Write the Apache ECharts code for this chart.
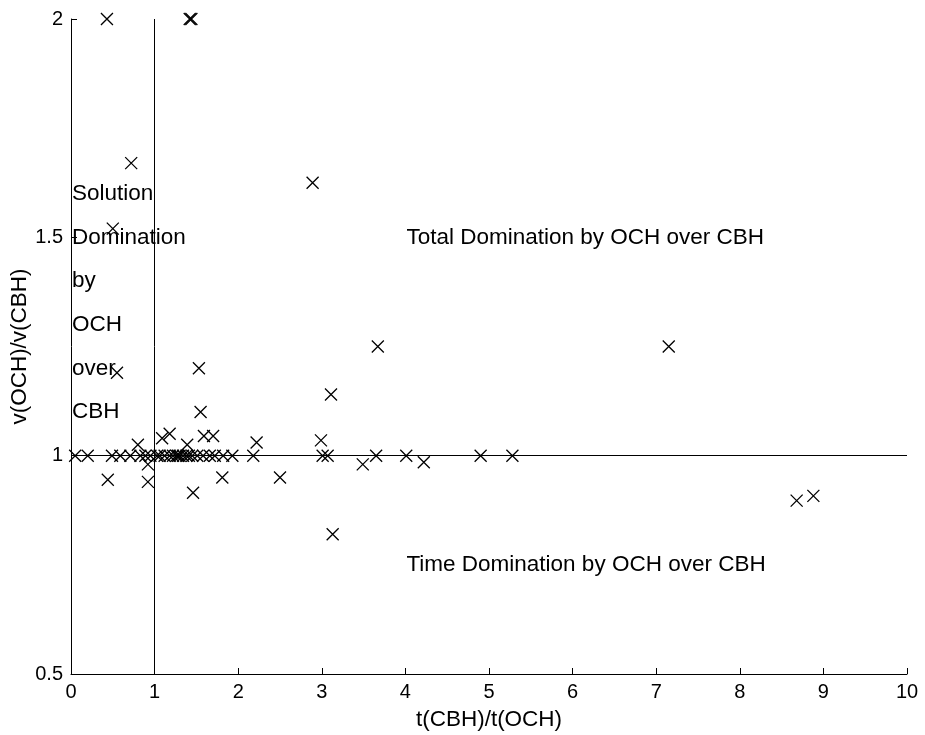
<!DOCTYPE html>
<html>
<head>
<meta charset="utf-8">
<script src="https://cdn.jsdelivr.net/npm/echarts@6/dist/echarts.min.js"></script>
<style>html,body{margin:0;padding:0;background:#fff;}#c{width:925px;height:735px;}</style>
</head>
<body>
<div id="c"></div>
<script>
// ---- data ----
var xVals = [0.43, 1.42, 1.44, 0.72, 2.89, 0.50, 3.67, 7.15, 0.55, 1.53, 1.55, 3.11,
  0.80, 1.09, 1.18, 1.39, 1.59, 1.70, 2.22, 2.99,
  0.44, 0.92, 0.92, 1.46, 1.81, 2.50, 3.49, 4.22, 3.13, 8.68, 8.88,
  0.05, 0.20, 0.49, 0.59, 0.71, 0.83, 0.89, 0.95, 1.03, 1.06, 1.12, 1.18, 1.22, 1.26,
  1.28, 1.30, 1.34, 1.38, 1.41, 1.45, 1.51, 1.58, 1.66, 1.72, 1.82, 1.93, 2.18, 3.01,
  3.07, 3.65, 4.01, 4.90, 5.28];
var yVals = [2.0, 2.0, 2.0, 1.67, 1.625, 1.52, 1.25, 1.25, 1.19, 1.20, 1.10, 1.14,
  1.025, 1.04, 1.05, 1.025, 1.045, 1.045, 1.03, 1.035,
  0.945, 0.98, 0.94, 0.915, 0.95, 0.95, 0.98, 0.985, 0.82, 0.897, 0.908,
  1, 1, 1, 1, 1, 1, 1, 1, 1, 1, 1, 1, 1, 1,
  1, 1, 1, 1, 1, 1, 1, 1, 1, 1, 1, 1, 1, 1,
  1, 1, 1, 1, 1];
var refX = [1];
var refY = [1];
var annoText = ['Solution', 'Domination', 'by', 'OCH', 'over', 'CBH',
  'Total Domination by OCH over CBH', 'Time Domination by OCH over CBH'];
var annoX = [0, 0, 0, 0, 0, 0, 4, 4];
var annoY = [1.6, 1.5, 1.4, 1.3, 1.2, 1.1, 1.5, 0.75];
var xTicks = [0, 10, 1];
var yTicks = [0.5, 2, 0.5];
var xLabel = 't(CBH)/t(OCH)';
var yLabel = 'v(OCH)/v(CBH)';
// ----------------

var FONT = '"Liberation Sans", Arial, Helvetica, sans-serif';
var pts = xVals.map(function (x, i) { return [x, yVals[i]]; });
var anno = annoText.map(function (t, i) { return { value: [annoX[i], annoY[i]], name: t }; });

var chart = echarts.init(document.getElementById('c'), null, { renderer: 'canvas' });
var axisCommon = {
  type: 'value',
  axisLine: { show: true, lineStyle: { color: '#000', width: 1 } },
  axisTick: { show: true, inside: true, length: 6, lineStyle: { color: '#000', width: 1 } },
  splitLine: { show: false },
  axisLabel: { color: '#000', fontSize: 20, fontFamily: FONT, margin: 8 },
  nameLocation: 'middle',
  nameMoveOverlap: false,
  nameTextStyle: { color: '#000', fontSize: 22.5, fontFamily: FONT }
};
chart.setOption({
  animation: false,
  backgroundColor: '#fff',
  grid: { left: 71, right: 18, top: 19, bottom: 61, containLabel: false, outerBoundsMode: 'none' },
  xAxis: Object.assign({}, axisCommon, {
    min: xTicks[0], max: xTicks[1], interval: xTicks[2],
    name: xLabel, nameGap: 34
  }),
  yAxis: Object.assign({}, axisCommon, {
    min: yTicks[0], max: yTicks[1], interval: yTicks[2],
    name: yLabel, nameGap: 40, nameRotate: 90
  }),
  series: [
    {
      type: 'scatter',
      data: pts,
      symbol: 'path://M0,0L10,10M10,0L0,10',
      symbolSize: 12,
      itemStyle: { color: 'rgba(0,0,0,0)', borderColor: '#000', borderWidth: 1.3, opacity: 1 },
      silent: true,
      z: 3,
      markLine: {
        silent: true,
        symbol: ['none', 'none'],
        label: { show: false },
        lineStyle: { color: '#000', width: 1, type: 'solid', opacity: 1 },
        data: [{ xAxis: refX[0] }, { yAxis: refY[0] }]
      }
    },
    {
      type: 'scatter',
      data: anno,
      symbolSize: 0,
      silent: true,
      z: 4,
      itemStyle: { opacity: 1 },
      label: {
        show: true,
        position: 'right',
        distance: 1,
        formatter: function (p) { return p.name; },
        color: '#000',
        fontSize: 22.5,
        fontFamily: FONT
      }
    }
  ]
});
</script>
</body>
</html>
